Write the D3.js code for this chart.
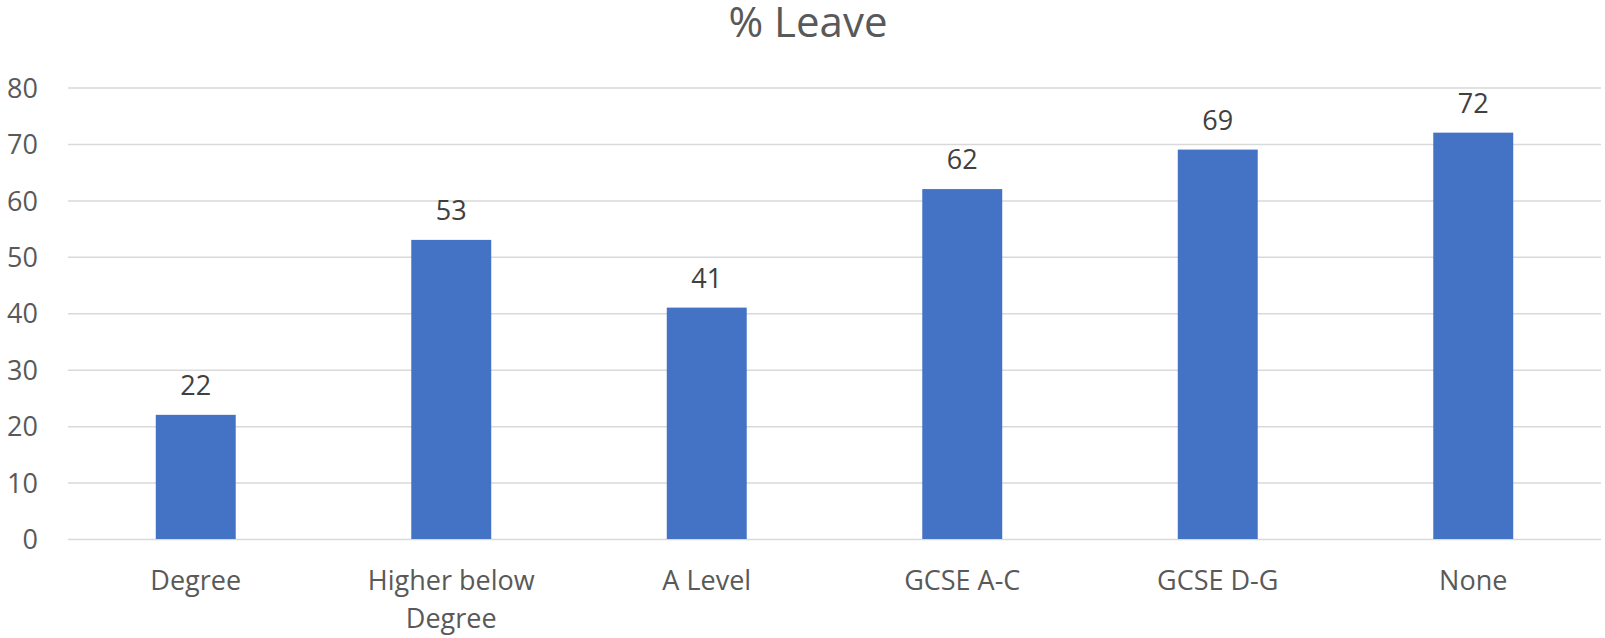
<!DOCTYPE html>
<html>
<head>
<meta charset="utf-8">
<script src="https://cdn.jsdelivr.net/npm/d3@7"></script>
<style>
  html, body { margin: 0; padding: 0; background: #fff; }
  svg { display: block; }
  text { font-family: "Open Sans", "Noto Sans", sans-serif; }
</style>
</head>
<body>
<svg id="chart" width="1605" height="638"></svg>
<script>
const categories = ["Degree", "Higher below Degree", "A Level", "GCSE A-C", "GCSE D-G", "None"];
const categoryLines = [["Degree"], ["Higher below", "Degree"], ["A Level"], ["GCSE A-C"], ["GCSE D-G"], ["None"]];
const values = [22, 53, 41, 62, 69, 72];
const yTicks = [0, 10, 20, 30, 40, 50, 60, 70, 80];
const title = "% Leave";

const svg = d3.select("#chart");
const mLeft = 68, mRight = 1601, mTop = 87.5, mBottom = 539;

const pi = 0.687;
const x = d3.scaleBand().domain(categories).range([mLeft, mRight]).paddingInner(pi).paddingOuter(pi / 2);
const y = d3.scaleLinear().domain([0, 80]).range([mBottom, mTop]);

// gridlines
const yAxis = d3.axisLeft(y).tickValues(yTicks).tickSize(-(mRight - mLeft)).tickPadding(30);
const gy = svg.append("g").attr("transform", `translate(${mLeft},0)`).call(yAxis);
gy.select(".domain").remove();
gy.selectAll(".tick line").attr("stroke", "#D9D9D9").attr("stroke-width", 1.5);
gy.selectAll(".tick text")
  .attr("fill", "#595959")
  .attr("font-size", 27)
  .attr("font-family", "Open Sans")
  .attr("x", -30)
  .attr("dy", "0.36em");

// bars
svg.append("g").selectAll("rect").data(values).join("rect")
  .attr("x", (d, i) => x(categories[i]))
  .attr("y", d => y(d))
  .attr("width", x.bandwidth())
  .attr("height", d => y(0) - y(d))
  .attr("fill", "#4472C4");

// data labels
svg.append("g").selectAll("text").data(values).join("text")
  .attr("x", (d, i) => x(categories[i]) + x.bandwidth() / 2)
  .attr("y", d => y(d) - 20)
  .attr("text-anchor", "middle")
  .attr("font-size", 27)
  .attr("fill", "#404040")
  .text(d => d);

// category labels
const cl = svg.append("g").selectAll("text").data(categories).join("text")
  .attr("text-anchor", "middle")
  .attr("font-size", 27)
  .attr("fill", "#595959")
  .attr("transform", d => `translate(${x(d) + x.bandwidth() / 2},590)`);
cl.each(function(d, i) {
  d3.select(this).selectAll("tspan").data(categoryLines[i]).join("tspan")
    .attr("x", 0)
    .attr("y", (t, j) => j * 38)
    .text(t => t);
});

// title
svg.append("text")
  .attr("x", 808)
  .attr("y", 37)
  .attr("text-anchor", "middle")
  .attr("font-size", 42)
  .attr("fill", "#595959")
  .text(title);
</script>
</body>
</html>
